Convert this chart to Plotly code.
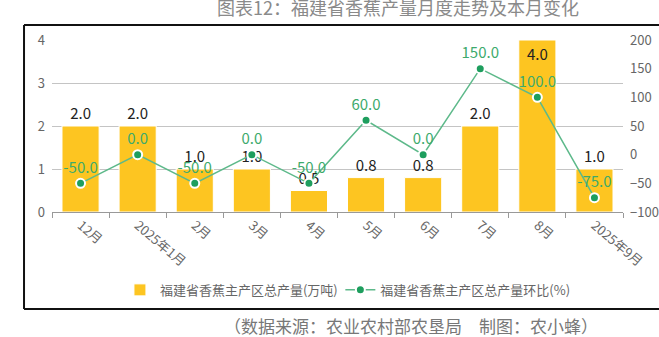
import plotly.graph_objects as go

months = ["12月", "2025年1月", "2月", "3月", "4月", "5月", "6月", "7月", "8月", "2025年9月"]
output_wt = [2.0, 2.0, 1.0, 1.0, 0.5, 0.8, 0.8, 2.0, 4.0, 1.0]
mom_pct = [-50.0, 0.0, -50.0, 0.0, -50.0, 60.0, 0.0, 150.0, 100.0, -75.0]

FONT = "Noto Sans CJK SC"
BAR_COLOR = "#FDC521"
LINE_COLOR = "#5DB98A"
DOT_COLOR = "#1E9E5E"
LABEL_GREEN = "#3DAA6C"
TICK_GREY = "#666666"

# bar labels sit above each bar, except the tallest one which touches the top of the axis
bar_pos = ["inside" if v >= 4 else "outside" for v in output_wt]
bar_font = dict(family=FONT, size=15, color="#222222")

fig = go.Figure()
fig.add_trace(go.Bar(
    x=months, y=output_wt, name="福建省香蕉主产区总产量(万吨)",
    marker=dict(color=BAR_COLOR, line=dict(color="white", width=1)),
    width=0.65,
    text=[f"{v:.1f}" for v in output_wt], textposition=bar_pos,
    insidetextanchor="end",
    textfont=bar_font, insidetextfont=bar_font, outsidetextfont=bar_font,
    cliponaxis=False, legend="legend",
))
fig.add_trace(go.Scatter(
    x=months, y=mom_pct, yaxis="y2", name="福建省香蕉主产区总产量环比(%)",
    mode="lines+markers+text",
    line=dict(color=LINE_COLOR, width=1.5),
    marker=dict(color=DOT_COLOR, size=9, line=dict(color="white", width=2)),
    text=[f"{v:.1f}" for v in mom_pct], textposition="top center",
    textfont=dict(family=FONT, size=15, color=LABEL_GREEN),
    cliponaxis=False, legend="legend2",
))

# frame around the chart body (open on the right) and separator above the source line
frame = dict(type="line", xref="paper", yref="paper", line=dict(color="#111111", width=2))
shapes = [
    dict(frame, x0=-0.049, x1=1.2, y0=1.087, y1=1.087),
    dict(frame, x0=-0.049, x1=-0.049, y0=1.087, y1=-0.564),
    dict(frame, x0=-0.049, x1=1.2, y0=-0.564, y1=-0.564),
]

legend_common = dict(orientation="h", y=-0.453, yanchor="middle", xanchor="left",
                     font=dict(family=FONT, size=13, color=TICK_GREY),
                     itemwidth=30, bgcolor="rgba(0,0,0,0)")

fig.update_layout(
    width=659, height=337,
    margin=dict(l=52, r=36, t=40, b=125, autoexpand=False),
    paper_bgcolor="white", plot_bgcolor="white",
    font=dict(family=FONT, color=TICK_GREY, size=13),
    showlegend=True,
    legend=dict(legend_common, x=0.119),
    legend2=dict(legend_common, x=0.505),
    xaxis=dict(
        type="category", tickangle=40, tickfont=dict(family=FONT, size=13, color=TICK_GREY),
        showline=True, linecolor="#999999", linewidth=1, automargin=False,
        ticks="outside", ticklen=5, tickcolor="#999999", tickson="boundaries",
        showgrid=False, range=[-0.5, 9.5],
    ),
    yaxis=dict(
        range=[0, 4], dtick=1, showgrid=True, gridcolor="#c4c4c4", gridwidth=1,
        zeroline=False, showline=False, ticks="", ticklabelstandoff=6, automargin=False,
        tickfont=dict(family=FONT, size=13, color=TICK_GREY),
    ),
    yaxis2=dict(
        overlaying="y", side="right", range=[-100, 200], dtick=50, showgrid=False,
        zeroline=False, showline=False, ticks="", ticklabelstandoff=6, automargin=False,
        tickfont=dict(family=FONT, size=13, color=TICK_GREY),
    ),
    bargap=0.35,
    shapes=shapes,
    annotations=[
        dict(text="图表12：福建省香蕉产量月度走势及本月变化", xref="paper", yref="paper",
             x=0.606, y=1.19, xanchor="center", yanchor="middle", showarrow=False,
             font=dict(family=FONT, size=18, color="#8a8a8a")),
        dict(text="（数据来源：农业农村部农垦局　制图：农小蜂）", xref="paper", yref="paper",
             x=0.96, y=-0.66, xanchor="right", yanchor="middle", showarrow=False,
             font=dict(family=FONT, size=17, color="#777777")),
    ],
)

fig.write_html("out.html")
